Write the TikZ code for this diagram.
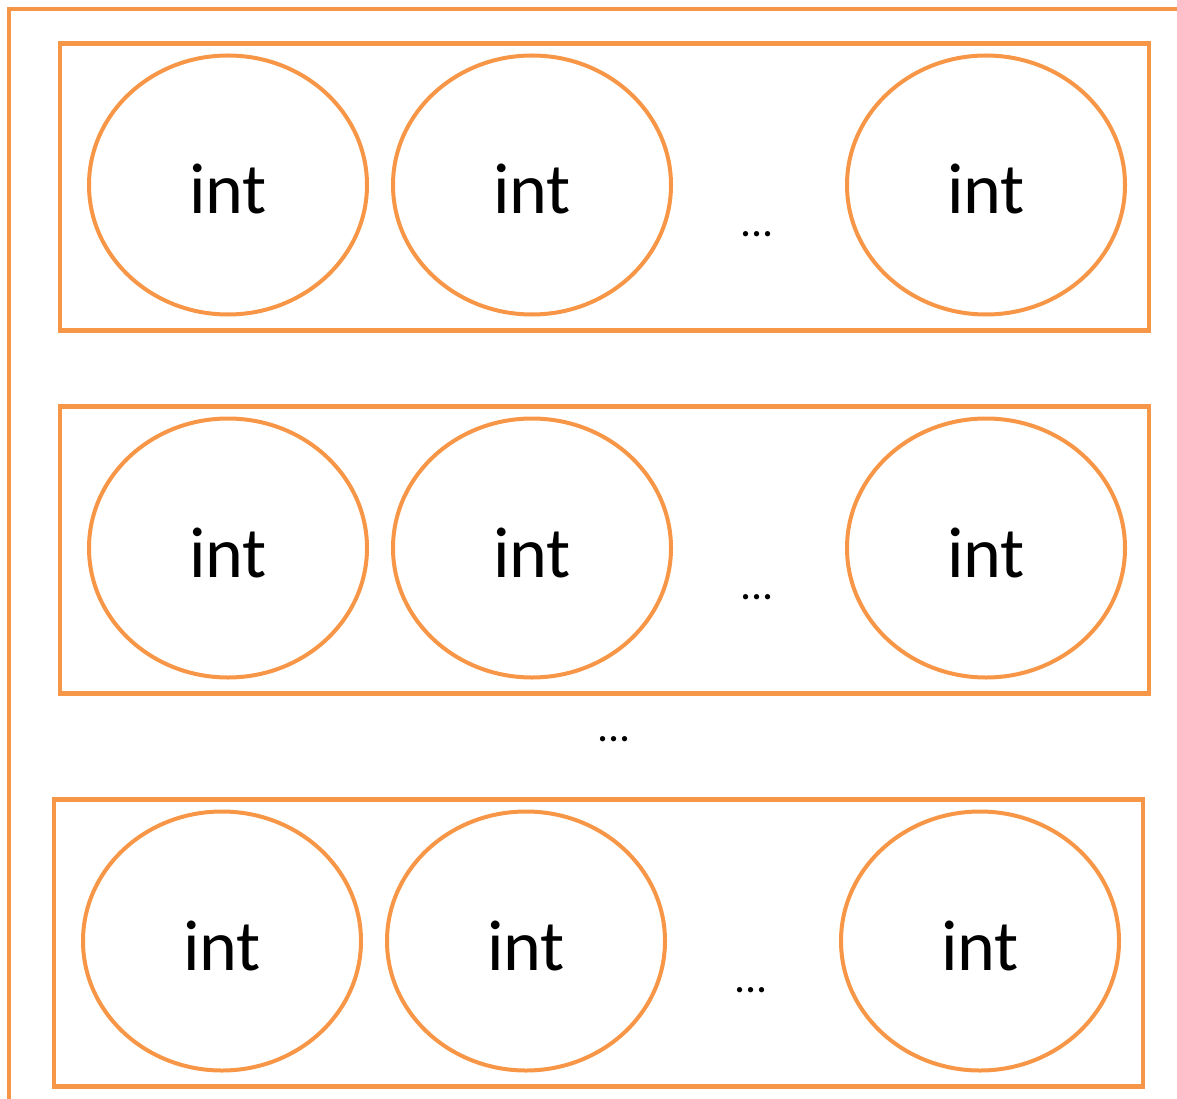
\documentclass[tikz,border=0pt]{standalone}
\usepackage{fontspec}
\setmainfont{Carlito}
\usepackage{xcolor}
\definecolor{frameorange}{HTML}{F79646}
\usetikzlibrary{shapes.geometric,positioning}

\tikzset{
  rowbox/.style={draw=frameorange,line width=4.5pt,rectangle,inner sep=0pt,
    minimum width=1089pt,minimum height=287pt},
  cell/.style={draw=frameorange,line width=4pt,ellipse,inner sep=0pt,
    minimum width=278pt,minimum height=259pt,text height=58pt,text depth=0pt,
    font=\fontsize{72}{80}\selectfont},
  gap/.style={inner sep=0pt,font=\fontsize{44}{50}\selectfont}
}

\begin{document}
\begin{tikzpicture}[x=1pt,y=-1pt]
        \useasboundingbox (0,0) rectangle (1177,1099);
        % draw outer frame
        \draw[frameorange,line width=4.5pt] (9,1099) -- (9,9) -- (1177,9);
        % draw rows
        \foreach \r/\dx/\y in {1/0/185,2/0/548,3/-6/941} {
          \node[rowbox] (row\r) at (604.5+\dx,\y+2) {};
          \node[cell] (a\r) at (228+\dx,\y) {int};
          \node[cell] (b\r) at (532+\dx,\y) {int};
          \node[cell] (c\r) at (986+\dx,\y) {int};
          \node[gap] (dots\r) at (757+\dx,\y+49) {...};
        }
        % draw dots between rows
        \node[gap] (dotsrow) at (614,739) {...};
\end{tikzpicture}
\end{document}
